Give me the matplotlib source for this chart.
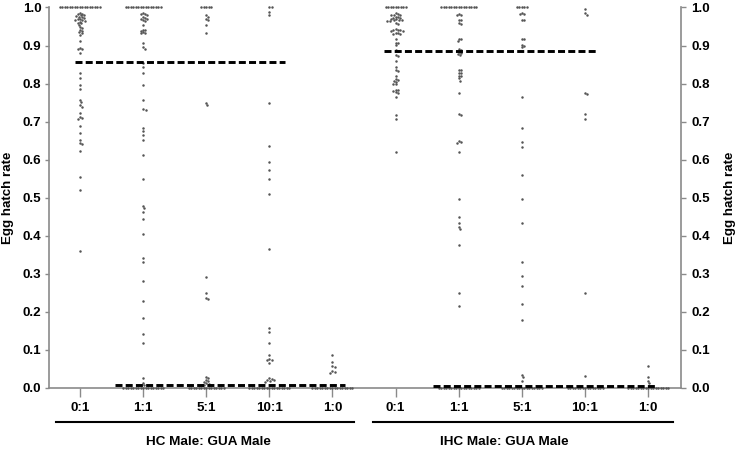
import numpy as np
import matplotlib
matplotlib.use("Agg")
import matplotlib.pyplot as plt

plt.rcParams['font.family'] = ['Liberation Sans', 'DejaVu Sans']

# ------------------------------------------------------------
# data (egg hatch rate per female)
# ------------------------------------------------------------
tick_labels = ["0:1", "1:1", "5:1", "10:1", "1:0", "0:1", "1:1", "5:1", "10:1", "1:0"]
group_labels = ["HC Male: GUA Male", "IHC Male: GUA Male"]

hc_0_1 = [1.0] * 17 + [0.985, 0.984, 0.982, 0.98, 0.979, 0.977, 0.975, 0.974, 0.972, 0.97,
                       0.969, 0.968, 0.966, 0.965, 0.963, 0.96, 0.958, 0.955, 0.949, 0.945,
                       0.942, 0.938, 0.935, 0.932, 0.927, 0.912, 0.894, 0.892, 0.89, 0.88,
                       0.857, 0.828, 0.816, 0.797, 0.787, 0.758, 0.752, 0.743, 0.739, 0.724,
                       0.712, 0.71, 0.708, 0.688, 0.67, 0.651, 0.644, 0.642, 0.623, 0.555,
                       0.52, 0.361]
hc_1_1 = [1.0] * 15 + [0.986, 0.984, 0.982, 0.98, 0.975, 0.973, 0.971, 0.969, 0.967, 0.965,
                       0.954, 0.942, 0.94, 0.939, 0.935, 0.933, 0.932, 0.908, 0.896, 0.892,
                       0.854, 0.843, 0.828, 0.797, 0.758, 0.732, 0.731, 0.683, 0.675, 0.664,
                       0.653, 0.613, 0.548, 0.478, 0.472, 0.462, 0.443, 0.404, 0.342, 0.332,
                       0.281, 0.229, 0.183, 0.142, 0.117, 0.025, 0.014, 0.008] + [0.0] * 17
hc_5_1 = [1.0] * 5 + [0.98, 0.975, 0.971, 0.967, 0.954, 0.934, 0.749, 0.743, 0.293, 0.25,
                      0.236, 0.233, 0.028, 0.025, 0.02, 0.018, 0.016, 0.013, 0.011, 0.009,
                      0.007] + [0.0] * 15
hc_10_1 = [1.0] * 2 + [0.989, 0.98, 0.748, 0.636, 0.593, 0.573, 0.548, 0.51, 0.365, 0.157,
                       0.146, 0.117, 0.087, 0.075, 0.074, 0.073, 0.065, 0.025, 0.024, 0.021,
                       0.02, 0.019, 0.017] + [0.0] * 17
hc_1_0 = [0.087, 0.069, 0.057, 0.055, 0.044, 0.042, 0.04] + [0.0] * 17

ihc_0_1 = [1.0] * 9 + [0.985, 0.983, 0.981, 0.98, 0.979, 0.975, 0.974, 0.973, 0.972, 0.97,
                       0.969, 0.968, 0.967, 0.966, 0.965, 0.964, 0.958, 0.957, 0.943, 0.942,
                       0.941, 0.94, 0.939, 0.938, 0.933, 0.932, 0.931, 0.93, 0.917, 0.908,
                       0.906, 0.901, 0.887, 0.885, 0.875, 0.873, 0.859, 0.843, 0.835, 0.833,
                       0.82, 0.811, 0.809, 0.806, 0.804, 0.8, 0.798, 0.784, 0.783, 0.781,
                       0.777, 0.776, 0.764, 0.718, 0.707, 0.621]
ihc_1_1 = [1.0] * 15 + [0.982, 0.981, 0.979, 0.968, 0.966, 0.959, 0.957, 0.918, 0.916, 0.912,
                        0.89, 0.888, 0.883, 0.881, 0.877, 0.875, 0.837, 0.835, 0.829, 0.827,
                        0.821, 0.819, 0.814, 0.808, 0.774, 0.72, 0.718, 0.649, 0.647, 0.644,
                        0.62, 0.498, 0.45, 0.433, 0.422, 0.417, 0.376, 0.249, 0.216] + [0.0] * 17
ihc_5_1 = [1.0] * 5 + [0.985, 0.984, 0.983, 0.968, 0.966, 0.918, 0.916, 0.902, 0.9, 0.895,
                       0.765, 0.682, 0.647, 0.634, 0.561, 0.498, 0.433, 0.332, 0.295, 0.269,
                       0.221, 0.18, 0.034, 0.028, 0.019] + [0.0] * 17
ihc_10_1 = [0.997, 0.985, 0.98, 0.776, 0.772, 0.719, 0.708, 0.249, 0.032] + [0.0] * 15
ihc_1_0 = [0.058, 0.03, 0.018, 0.012] + [0.0] * 17

groups = [hc_0_1, hc_1_1, hc_5_1, hc_10_1, hc_1_0,
          ihc_0_1, ihc_1_1, ihc_5_1, ihc_10_1, ihc_1_0]

# dashed reference lines: level and start/end in category units
line_levels = [0.857, 0.007, 0.886, 0.005]
line_starts = [-0.08, 0.55, 4.82, 5.59]
line_ends = [3.25, 4.2, 8.19, 9.11]

# ------------------------------------------------------------
fig = plt.figure(figsize=(7.39, 4.49), dpi=100)
W, H = 739, 449
ax = fig.add_axes([49 / W, 1 - 388 / H, 632 / W, 380.5 / H])
ax.set_xlim(-0.49, 9.52)
ax.set_ylim(0, 1.0)

# pixel scale of the data axes, for the swarm layout
x_px = ax.get_position().width * W / (ax.get_xlim()[1] - ax.get_xlim()[0])
y_px = ax.get_position().height * H / (ax.get_ylim()[1] - ax.get_ylim()[0])


def swarm(vals, d=2.35, step=0.25):
    placed = []
    offs = []
    for v in vals:
        yp = v * y_px
        k = 0
        while True:
            off = ((k + 1) // 2) * step * (1 if k % 2 else -1) if k else 0.0
            ok = True
            for (px, py) in placed:
                if (off - px) ** 2 + (yp - py) ** 2 < d ** 2:
                    ok = False
                    break
            if ok:
                break
            k += 1
        placed.append((off, yp))
        offs.append(off / x_px)
    return np.array(offs)


gray = "#8a8a8a"
for i, vals in enumerate(groups):
    vals = np.array(vals)
    xo = swarm(vals)
    ax.scatter(i + xo, vals, s=3.2, color="#555555", linewidths=0, zorder=3, clip_on=False)

for lvl, x0, x1 in zip(line_levels, line_starts, line_ends):
    ax.plot([x0, x1], [lvl, lvl], color="black", lw=2.1, dashes=(2.4, 1.1), zorder=4,
            solid_capstyle="butt", dash_capstyle="butt")

yt = np.arange(0, 1.01, 0.1)
ax.set_yticks(yt)
ax.set_yticklabels(["%.1f" % t for t in yt], fontweight="bold", fontsize=9.6)
ax.set_xticks(range(10))
ax.set_xticklabels(tick_labels, fontweight="bold", fontsize=9.6)
ax.tick_params(axis="x", length=6.8, width=1, color=gray, pad=3.5)
ax.tick_params(axis="y", length=3, width=1, color=gray, pad=2.5)
for s in ["top", "right"]:
    ax.spines[s].set_visible(False)
for s in ["left", "bottom"]:
    ax.spines[s].set_color(gray)
    ax.spines[s].set_linewidth(1.2)

ax2 = ax.twinx()
ax2.set_ylim(0, 1.0)
ax2.set_yticks(yt)
ax2.set_yticklabels(["%.1f" % t for t in yt], fontweight="bold", fontsize=9.6)
ax2.tick_params(axis="y", length=3.5, width=1, color=gray, pad=4)
for s in ["top", "left", "bottom"]:
    ax2.spines[s].set_visible(False)
ax2.spines["right"].set_color(gray)
ax2.spines["right"].set_linewidth(1.2)

# axis titles on both sides
fig.text(8 / W, 1 - 198 / H, "Egg hatch rate", rotation=90, ha="center", va="center",
         fontsize=9.6, fontweight="bold")
fig.text(730 / W, 1 - 198 / H, "Egg hatch rate", rotation=90, ha="center", va="center",
         fontsize=9.6, fontweight="bold")

# group brackets and labels under the axis
ax.plot([-0.38, 4.34], [-0.089, -0.089], color="black", lw=1.5, clip_on=False)
ax.plot([4.64, 9.40], [-0.089, -0.089], color="black", lw=1.5, clip_on=False)
ax.text(2.03, -0.142, group_labels[0], ha="center", va="center", fontsize=9.7, fontweight="bold")
ax.text(6.72, -0.142, group_labels[1], ha="center", va="center", fontsize=9.7, fontweight="bold")

fig.savefig("out.png", dpi=100)
